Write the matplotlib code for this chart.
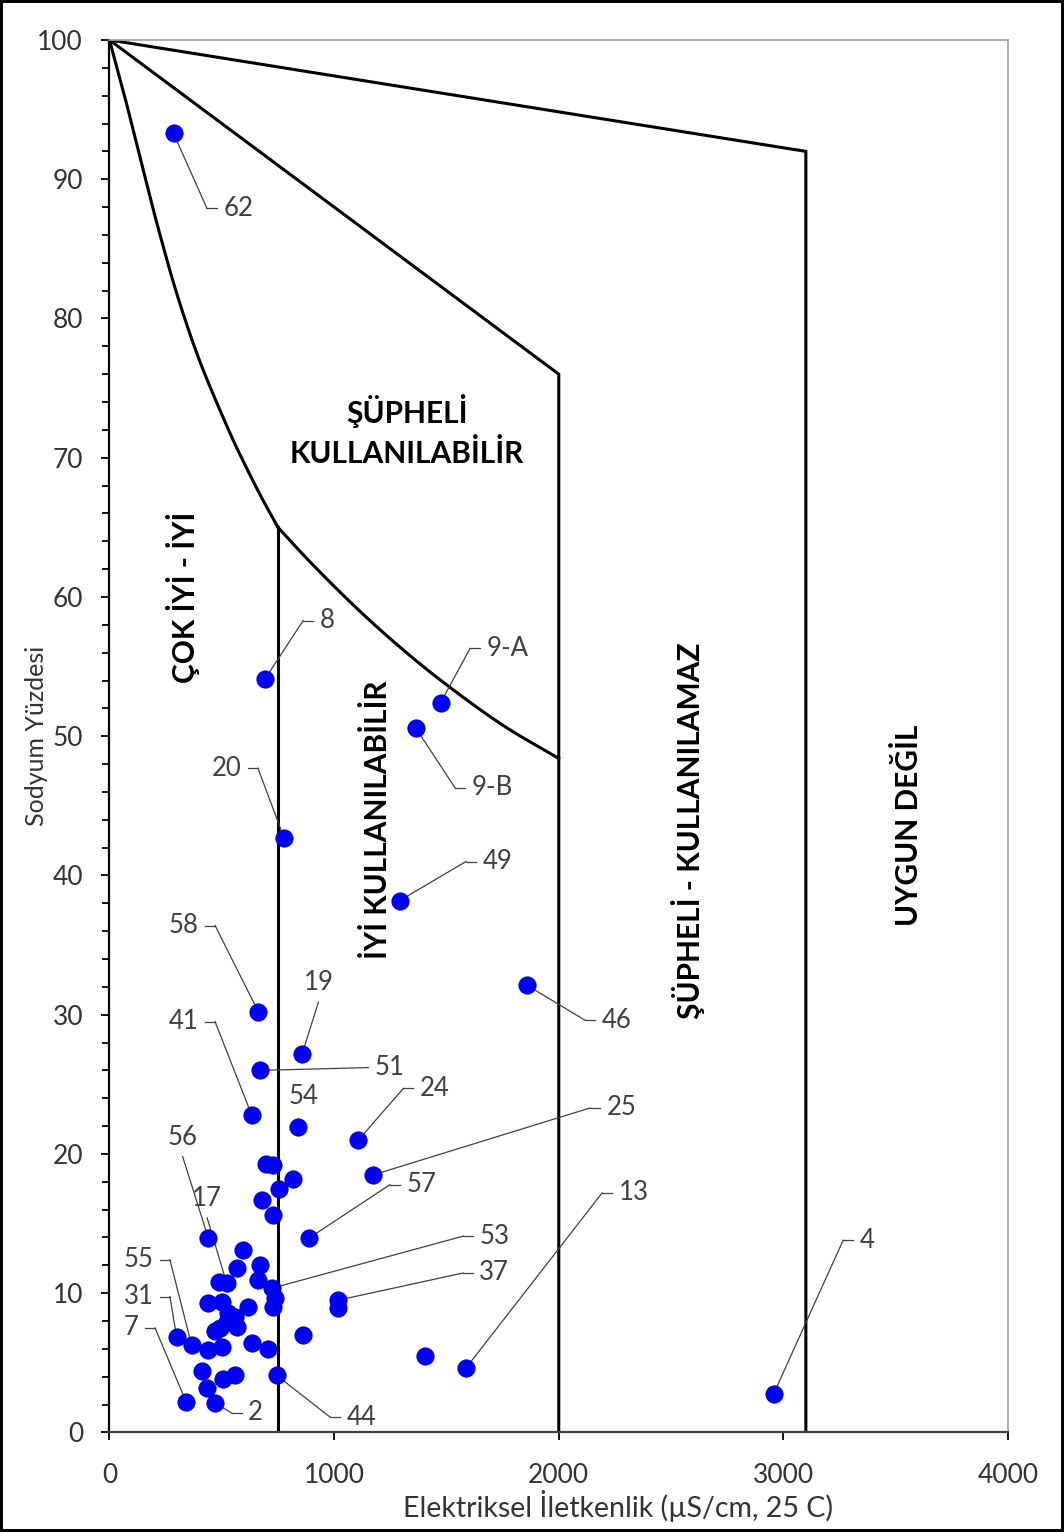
import numpy as np
import matplotlib.pyplot as plt

plt.rcParams['font.family'] = ['Lato', 'DejaVu Sans']

# Sample data : EC (uS/cm) and Na %
ec = [285, 692, 1474, 1363, 777, 1293, 1860, 663, 858, 670,
      633, 841, 1108, 1175, 695, 729, 818, 755, 678, 729,
      888, 440, 596, 566, 670, 489, 522, 663, 722, 737,
      729, 440, 500, 618, 529, 559, 522, 492, 566, 470,
      863, 1019, 1019, 299, 366, 440, 500, 633, 707, 1405,
      1586, 410, 507, 559, 744, 433, 341, 470, 2956]
na = [93.3, 54.1, 52.4, 50.6, 42.7, 38.2, 32.1, 30.2, 27.2, 26.0,
      22.8, 21.9, 21.0, 18.5, 19.3, 19.2, 18.2, 17.5, 16.7, 15.6,
      13.95, 13.95, 13.1, 11.8, 12.0, 10.8, 10.7, 10.95, 10.35, 9.65,
      9.0, 9.3, 9.4, 9.0, 8.55, 8.3, 7.95, 7.5, 7.6, 7.25,
      7.0, 9.5, 8.9, 6.85, 6.25, 5.9, 6.15, 6.4, 6.0, 5.5,
      4.6, 4.4, 3.85, 4.1, 4.1, 3.2, 2.2, 2.1, 2.75]
names = ['62', '8', '9-A', '9-B', '20', '49', '46', '58', '19', '51',
         '41', '54', '24', '25', '', '', '', '', '', '',
         '57', '56', '', '', '', '', '17', '', '53', '',
         '', '', '', '', '', '', '', '', '', '',
         '', '37', '', '31', '55', '', '', '', '', '',
         '13', '', '', '', '44', '', '7', '2', '4']

# label placement: leader elbow (data units) and side of the text
lab_pos = {'62': (434, 87.9, 'r'), '8': (862, 58.3, 'r'), '9-A': (1605, 56.3, 'r'),
           '9-B': (1538, 46.3, 'r'), '20': (661, 47.7, 'l'), '49': (1587, 41.0, 'r'),
           '46': (2117, 29.6, 'r'), '58': (470, 36.4, 'l'), '19': (930, 30.9, 'u'),
           '51': (1152, 26.2, 'n'), '41': (470, 29.5, 'l'), '54': (866, 24.1, 't'),
           '24': (1308, 24.7, 'r'), '25': (2139, 23.3, 'r'), '57': (1249, 17.8, 'r'),
           '56': (326, 19.8, 'u'), '17': (435, 15.4, 'u'), '53': (1575, 14.1, 'r'),
           '37': (1574, 11.45, 'r'), '31': (269, 9.75, 'l'), '55': (269, 12.4, 'l'),
           '7': (203, 7.5, 'l'), '2': (544, 1.4, 'r'), '44': (982, 1.1, 'r'),
           '13': (2193, 17.2, 'r'), '4': (3266, 13.8, 'r')}

# Wilcox class boundaries
top_x = [0, 3100, 3100]
top_y = [100, 92, 0]
mid_x = [0, 2000, 2000]
mid_y = [100, 76, 0]
up_curve_x = [0, 70, 145, 220, 305, 405, 530, 600, 675, 750]
up_curve_y = [100, 95.8, 91.0, 86.3, 81.5, 76.8, 72.0, 69.6, 67.2, 65.0]
lo_curve_x = [750, 900, 1100, 1300, 1500, 1750, 2000]
lo_curve_y = [65.0, 62.4, 59.2, 56.3, 53.7, 50.8, 48.4]
low_x = [750, 750]
low_y = [65, 0]


def catmull(xs, ys, n=20):
    # smooth line going through the boundary points
    p = np.column_stack([xs, ys]).astype(float)
    p = np.vstack([2 * p[0] - p[1], p, 2 * p[-1] - p[-2]])
    out = []
    t = np.linspace(0, 1, n, endpoint=False)[:, None]
    for i in range(1, len(p) - 2):
        p0, p1, p2, p3 = p[i - 1], p[i], p[i + 1], p[i + 2]
        seg = 0.5 * (2 * p1 + (-p0 + p2) * t + (2 * p0 - 5 * p1 + 4 * p2 - p3) * t ** 2
                     + (-p0 + 3 * p1 - 3 * p2 + p3) * t ** 3)
        out.append(seg)
    out.append(p[-2][None, :])
    out = np.vstack(out)
    return out[:, 0], out[:, 1]


fig = plt.figure(figsize=(10.64, 15.32), dpi=100)
fig.patch.set_edgecolor('black')
fig.patch.set_linewidth(3)
ax = fig.add_axes([0.1029, 0.065, 0.8445, 0.9089])

ux, uy = catmull(up_curve_x, up_curve_y)
lx, ly = catmull(lo_curve_x, lo_curve_y)
for bx, by in [(top_x, top_y), (mid_x, mid_y), (ux, uy), (lx, ly), (low_x, low_y)]:
    ax.plot(bx, by, c='k', lw=2.2, zorder=2, solid_joinstyle='miter')

ax.scatter(ec, na, s=155, c='#0000f5', edgecolors='#0000d0', linewidths=0.6, zorder=4)

# Data labels with leader lines
dx = 44.5
gap = 28
lab_col = '#404040'
lab_fs = 18.5
for x, y, n in zip(ec, na, names):
    if n == '':
        continue
    ex, ey, side = lab_pos[n]
    if side != 't':
        ax.plot([x, ex], [y, ey], c=lab_col, lw=0.9, zorder=3)
    if side == 'r':
        ax.plot([ex, ex + dx], [ey, ey], c=lab_col, lw=0.9, zorder=3)
        ax.text(ex + dx + gap, ey, n, ha='left', va='center', fontsize=lab_fs, color=lab_col)
    elif side == 'l':
        ax.plot([ex, ex - dx], [ey, ey], c=lab_col, lw=0.9, zorder=3)
        ax.text(ex - dx - gap, ey, n, ha='right', va='center', fontsize=lab_fs, color=lab_col)
    elif side == 'n':
        ax.text(ex + gap, ey, n, ha='left', va='center', fontsize=lab_fs, color=lab_col)
    elif side == 'u':
        ax.text(ex, ey + 1.4, n, ha='center', va='center', fontsize=lab_fs, color=lab_col)
    else:
        ax.text(ex, ey, n, ha='center', va='center', fontsize=lab_fs, color=lab_col)

# Class names
ax.text(1324, 71.9, 'ŞÜPHELİ\nKULLANILABİLİR', ha='center', va='center',
        fontsize=21.5, fontweight='bold', linespacing=1.45)
ax.text(327, 60.0, 'ÇOK İYİ - İYİ', rotation=90, ha='center', va='center',
        fontsize=21.5, fontweight='bold')
ax.text(1195, 44.0, 'İYİ KULLANILABİLİR', rotation=90, ha='center', va='center',
        fontsize=21.5, fontweight='bold')
ax.text(2575, 43.2, 'ŞÜPHELİ - KULLANILAMAZ', rotation=90, ha='center', va='center',
        fontsize=21.5, fontweight='bold')
ax.text(3555, 43.6, 'UYGUN DEĞİL', rotation=90, ha='center', va='center',
        fontsize=21.5, fontweight='bold')

# Axes
ax.set_xlim(0, 4000)
ax.set_ylim(0, 100)
ax.set_xticks([0, 1000, 2000, 3000, 4000])
ax.set_yticks(np.arange(0, 101, 10))
ax.set_yticks(np.arange(0, 101, 2), minor=True)
ax.tick_params(axis='both', which='major', labelsize=19, labelcolor='#333333',
               length=6, width=1.3, direction='out')
ax.tick_params(axis='y', which='major', pad=13)
ax.tick_params(axis='x', which='major', pad=16)
ax.tick_params(axis='y', which='minor', length=5, width=1.3)
ax.spines['left'].set_linewidth(1.6)
ax.spines['left'].set_color('k')
ax.spines['bottom'].set_linewidth(1.6)
ax.spines['bottom'].set_color('#404040')
for s in ['top', 'right']:
    ax.spines[s].set_color('#a0a0a0')
    ax.spines[s].set_linewidth(1.2)

ax.set_xlabel('Elektriksel İletkenlik (µS/cm, 25 C)', fontsize=20.5, color='#333333')
ax.set_ylabel('Sodyum Yüzdesi', fontsize=18, color='#333333')
ax.xaxis.set_label_coords(0.566, -0.041)
ax.yaxis.set_label_coords(-0.068, 0.5)

plt.savefig('out.png', dpi=100, edgecolor=fig.get_edgecolor())
